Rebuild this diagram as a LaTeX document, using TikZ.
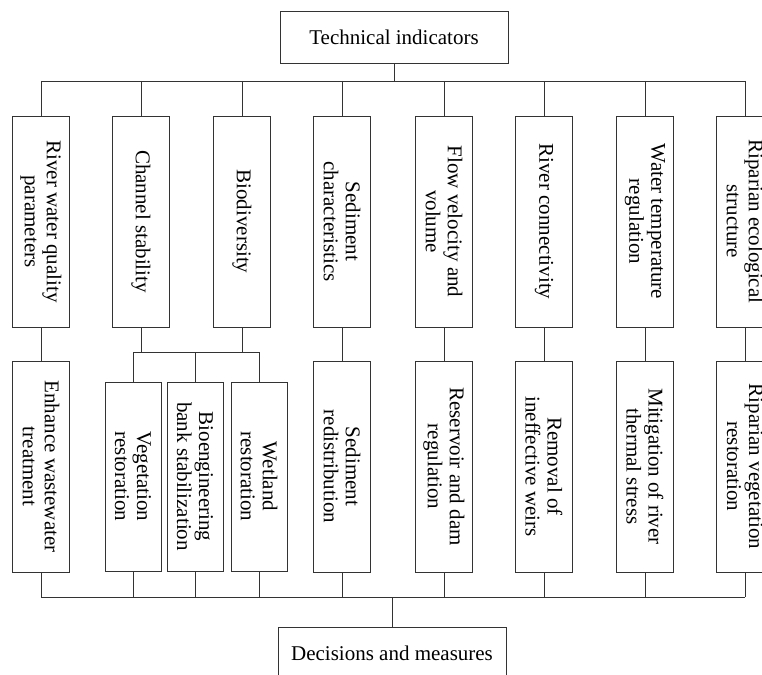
\documentclass[tikz,border=0pt]{standalone}
\usepackage{fontspec}
\setmainfont{Liberation Serif}
\usetikzlibrary{positioning}
\begin{document}
\begin{tikzpicture}[x=1pt,y=-1pt,font=\fontsize{21}{22}\selectfont]
\tikzstyle{head} = [rectangle, draw=black!80, line width=0.9pt,
minimum width=228pt, minimum height=52pt]
\tikzstyle{ind} = [rectangle, draw=black!80, line width=0.9pt, rotate=-90,
align=center, minimum width=211pt, minimum height=57pt, inner sep=2pt]
\tikzstyle{sub} = [ind, minimum width=189pt, minimum height=56pt]
\tikzstyle{line} = [draw=black!80, line width=0.9pt]
\useasboundingbox (0,0) rectangle (762,674);
\clip (0,0) rectangle (762,674);
% top
\node [head] (top) at (394,37) {Technical indicators};
% row 1
\node [ind] (r1) at (41,221.5) {River water quality\\parameters};
\node [ind] (r2) at (141,221.5) {Channel stability};
\node [ind] (r3) at (242,221.5) {Biodiversity};
\node [ind] (r4) at (342,221.5) {Sediment\\characteristics};
\node [ind] (r5) at (444,221.5) {Flow velocity and\\volume};
\node [ind] (r6) at (544,221.5) {River connectivity};
\node [ind] (r7) at (645,221.5) {Water temperature\\regulation};
\node [ind] (r8) at (745,221.5) {Riparian ecological\\structure};
% row 2
\node [ind] (m1) at (41,466.5) {Enhance wastewater\\treatment};
\node [sub] (s1) at (133,476.5) {Vegetation\\restoration};
\node [sub] (s2) at (195,476.5) {Bioengineering\\bank stabilization};
\node [sub] (s3) at (259,476.5) {Wetland\\restoration};
\node [ind] (m4) at (342,466.5) {Sediment\\redistribution};
\node [ind] (m5) at (444,466.5) {Reservoir and dam\\regulation};
\node [ind] (m6) at (544,466.5) {Removal of\\ineffective weirs};
\node [ind] (m7) at (645,466.5) {Mitigation of river\\thermal stress};
\node [ind] (m8) at (745,466.5) {Riparian vegetation\\restoration};
% bottom
\node [head] (end) at (392,653) {Decisions and measures};
\coordinate (tb) at (394,81);
\coordinate (cb) at (196,352);
\coordinate (bb) at (392,597);
\path[line] (top.south) -- (tb);
\path[line] (r1.west |- tb) -- (r8.west |- tb);
\foreach \i in {1,...,8} \path[line] (r\i.west |- tb) -- (r\i.west);
\foreach \i in {1,4,5,6,7,8} \path[line] (r\i.east) -- (m\i.west);
\path[line] (r2.east) -- (r2.east |- cb);
\path[line] (r3.east) -- (r3.east |- cb);
\path[line] (s1.west |- cb) -- (s3.west |- cb);
\foreach \i in {1,2,3} \path[line] (s\i.west |- cb) -- (s\i.west);
\foreach \n in {m1,s1,s2,s3,m4,m5,m6,m7,m8} \path[line] (\n.east) -- (\n.east |- bb);
\path[line] (m1.east |- bb) -- (m8.east |- bb);
\path[line] (bb) -- (end.north);
\end{tikzpicture}
\end{document}
